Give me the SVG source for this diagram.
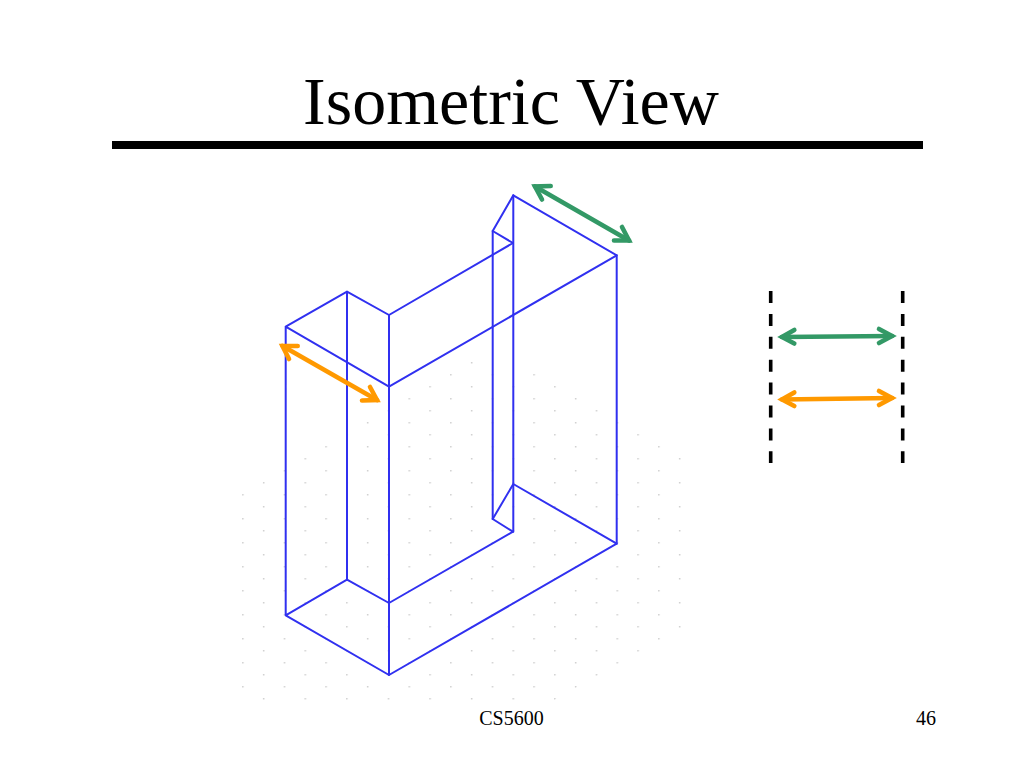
<svg xmlns="http://www.w3.org/2000/svg" width="1024" height="768" viewBox="0 0 1024 768">
<style>
text{font-family:"Liberation Serif","Times New Roman",serif;fill:#000}
.w{fill:none;stroke:#3030f0;stroke-width:2;stroke-linejoin:round;stroke-linecap:round}
.a{fill:none;stroke-width:4.6;stroke-linecap:round;stroke-linejoin:miter}
.g{stroke:#339966}
.o{stroke:#ff9900}
.d{stroke:#000;stroke-width:3.6;stroke-dasharray:12 10.9;fill:none}
</style>
<defs>
<pattern id="grid" patternUnits="userSpaceOnUse" x="304.5" y="458" width="41.6" height="24">
<rect x="0" y="0" width="1.5" height="1.5" fill="#cfcfcf"/>
<rect x="20.8" y="12" width="1.5" height="1.5" fill="#cfcfcf"/>
</pattern>
</defs>
<rect width="1024" height="768" fill="#fff"/>
<path id="dots" fill="url(#grid)" d="M241 495L470 361L500 361L533 372L681 458V628L553 701H262L241 689Z"/>
<text x="511" y="124" font-size="68" text-anchor="middle">Isometric View</text>
<rect x="112" y="141" width="811" height="8" fill="#000"/>
<g id="wireframe" class="w">
<path d="M285.7 326.7L347 291.7L389 315L513 243L492.7 231L513.3 195.3L616.7 255.3L389 386.7L285.7 326.7V615.3L389 675L616.7 543.7L513.3 484L492.7 519L513 531.7L389 603L347 579.7L285.7 615.3"/>
<path d="M347 291.7V579.7M389 315V675M492.7 231V519M513.3 195.3V531.7M616.7 255.3V543.7"/>
</g>
<g id="connectors">
<g class="a g"><path d="M535 186.5L629 240.5"/><path d="M550.7 186L535 186.5L542 199.5"/><path d="M614 240.5L629 240.5L622 227"/></g>
<g class="a o"><path d="M282.5 346L377 400"/><path d="M297.7 346L282.5 346L289 359"/><path d="M362 400.5L377 400L370 387"/></g>
<path class="d" d="M770.7 291V463"/>
<path class="d" d="M902.7 291V463"/>
<g class="a g"><path d="M782 337L892 336"/><path d="M794.3 330L782 337L794.3 343.5"/><path d="M879 329L892 336L879 343"/></g>
<g class="a o"><path d="M782 399.5L892 398"/><path d="M794.3 392.5L782 399.5L794.3 406"/><path d="M879 391L892 398L879 405"/></g>
</g>
<text x="511.5" y="725" font-size="20" text-anchor="middle">CS5600</text>
<text x="926" y="725" font-size="20" text-anchor="middle">46</text>
</svg>
